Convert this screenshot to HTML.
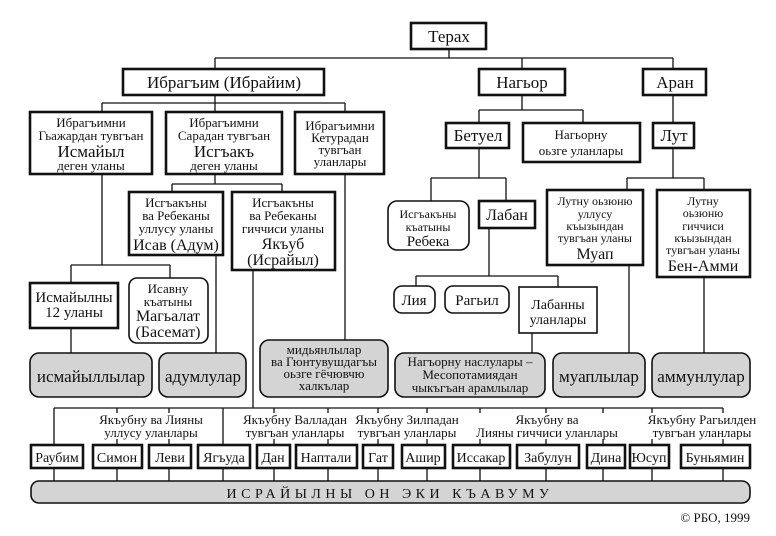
<!DOCTYPE html>
<html><head><meta charset="utf-8"><style>
html,body{margin:0;padding:0;background:#fff;}
svg{display:block;font-family:"Liberation Serif",serif;}
</style></head><body>
<svg width="776" height="536" viewBox="0 0 776 536" xmlns="http://www.w3.org/2000/svg">
<g stroke="#111" stroke-width="1.3" fill="none">
<path d="M449 49V58M215 58H673M215 58V69M522 58V69M673 58V69"/>
<path d="M215 95V103M102 103H345M102 103V112M215 103V112M345 103V112"/>
<path d="M522 95V110M479 110H583M479 110V123M583 110V123M673 95V123"/>
<path d="M215 174V184M172 184H282M172 184V192M282 184V192"/>
<path d="M479 148V178M431 178H506M431 178V201M506 178V201"/>
<path d="M673 148V178M627 178H704M627 178V190M704 178V190"/>
<path d="M102 174V265M71 265H170M71 265V283M170 265V278"/>
<path d="M489 228V276M416 276H558M416 276V286M558 276V287"/>
<path d="M71 328V353M216 255V353M345 174V340M532 333V353M629 265V353M704 277V353"/>
<path d="M253 270V408M54 408H723"/>
<path d="M54 408V445M117 408V445M169 408V445M223 408V445M274 408V445M328 408V445M378 408V445M427 408V445M480 408V445M546 408V445M603 408V445M652 408V445M723 408V445"/>
<path d="M54 468V481M117 468V481M169 468V481M223 468V481M274 468V481M328 468V481M378 468V481M427 468V481M480 468V481M546 468V481M603 468V481M652 468V481M723 468V481"/>
</g>
<g fill="#fff">
<rect x="98" y="413" width="106" height="26"/>
<rect x="243" y="413" width="104" height="26"/>
<rect x="358" y="413" width="98" height="26"/>
<rect x="478" y="413" width="140" height="26"/>
<rect x="645" y="413" width="112" height="26"/>
</g>
<g stroke="#111" stroke-width="2.6" fill="#fff">
<rect x="411" y="23" width="75" height="26"/>
<rect x="123" y="69" width="201" height="26"/>
<rect x="479" y="69" width="86" height="26"/>
<rect x="643" y="69" width="63" height="26"/>
<rect x="30" y="112" width="122" height="62"/>
<rect x="166" y="112" width="116" height="62"/>
<rect x="295" y="112" width="89" height="62"/>
<rect x="446" y="123" width="63" height="25"/>
<rect x="523" y="123" width="117" height="39"/>
<rect x="653" y="123" width="41" height="25"/>
<rect x="129" y="192" width="94" height="63"/>
<rect x="232" y="192" width="103" height="78"/>
<rect x="479" y="201" width="56" height="27"/>
<rect x="547" y="190" width="96" height="75"/>
<rect x="657" y="190" width="93" height="87"/>
<rect x="30" y="283" width="88" height="45"/>
<rect x="519" y="287" width="78" height="46" stroke-width="1.6"/>
<rect x="31" y="445" width="52" height="23"/><rect x="93" y="445" width="49" height="23"/>
<rect x="149" y="445" width="42" height="23"/><rect x="198" y="445" width="52" height="23"/>
<rect x="257" y="445" width="33" height="23"/><rect x="296" y="445" width="61" height="23"/>
<rect x="363" y="445" width="30" height="23"/><rect x="402" y="445" width="43" height="23"/>
<rect x="453" y="445" width="57" height="23"/><rect x="517" y="445" width="62" height="23"/>
<rect x="587" y="445" width="38" height="23"/><rect x="630" y="445" width="39" height="23"/>
<rect x="681" y="445" width="69" height="23"/>
</g>
<g stroke="#111" stroke-width="1.6" fill="#fff">
<rect x="388" y="201" width="81" height="49" rx="9"/>
<rect x="129" y="278" width="79" height="65" rx="8"/>
<rect x="394" y="286" width="41" height="27" rx="8"/>
<rect x="445" y="286" width="64" height="27" rx="8"/>
</g>
<g stroke="#111" stroke-width="1.6" fill="#d4d4d4">
<rect x="30" y="353" width="122" height="44" rx="9"/>
<rect x="159" y="353" width="87" height="44" rx="9"/>
<rect x="260" y="340" width="128" height="57" rx="9"/>
<rect x="395" y="353" width="150" height="44" rx="9"/>
<rect x="553" y="353" width="92" height="44" rx="9"/>
<rect x="652" y="353" width="98" height="44" rx="9"/>
<rect x="31" y="481" width="719" height="22" rx="8"/>
</g>
<g fill="#111" text-anchor="middle" font-size="17">
<text x="449" y="42">Терах</text>
<text x="224" y="88">Ибрагъим (Ибрайим)</text>
<text x="522" y="88">Нагьор</text>
<text x="675" y="88">Аран</text>
<text x="478" y="141">Бетуел</text>
<text x="674" y="141">Лут</text>
<text x="507" y="220" font-size="16">Лабан</text>
<text x="414" y="305" font-size="15">Лия</text>
<text x="477" y="305" font-size="15">Рагьил</text>
<text x="91" y="382">исмайыллылар</text>
<text x="203" y="382">адумлулар</text>
<text x="599" y="382">муаплылар</text>
<text x="701" y="382">аммунлулар</text>
</g>
<g fill="#111" text-anchor="middle" font-size="13">
<text x="91" y="127">Ибрагъимни</text><text x="91" y="140">Гьажардан тувгъан</text>
<text x="91" y="157" font-size="17">Исмайыл</text><text x="91" y="170">деген уланы</text>
<text x="224" y="127">Ибрагъимни</text><text x="224" y="140">Сарадан тувгъан</text>
<text x="224" y="157" font-size="17">Исгъакъ</text><text x="224" y="170">деген уланы</text>
<text x="340" y="130">Ибрагъимни</text><text x="340" y="142">Кетурадан</text>
<text x="340" y="154">тувгъан</text><text x="340" y="166">уланлары</text>
<text x="581" y="139">Нагьорну</text><text x="581" y="155">оьзге уланлары</text>
<text x="176" y="207">Исгъакъны</text><text x="176" y="220">ва Ребеканы</text>
<text x="176" y="233">уллусу уланы</text><text x="176" y="250" font-size="16">Исав (Адум)</text>
<text x="283" y="207">Исгъакъны</text><text x="283" y="220">ва Ребеканы</text>
<text x="283" y="233">гиччиси уланы</text><text x="283" y="249" font-size="16">Якъуб</text>
<text x="283" y="265" font-size="16">(Исрайыл)</text>
<text x="428" y="218" font-size="12">Исгъакъны</text><text x="428" y="231" font-size="12">къатыны</text>
<text x="428" y="246" font-size="15">Ребека</text>
<text x="595" y="205" font-size="12">Лутну оьзюню</text><text x="595" y="218" font-size="12">уллусу</text>
<text x="595" y="230" font-size="12">къызындан</text><text x="595" y="242" font-size="12">тувгъан уланы</text>
<text x="595" y="259" font-size="16">Муап</text>
<text x="703" y="205" font-size="12">Лутну</text><text x="703" y="217" font-size="12">оьзюню</text>
<text x="703" y="230" font-size="12">гиччиси</text><text x="703" y="242" font-size="12">къызындан</text>
<text x="703" y="254" font-size="12">тувгъан уланы</text><text x="703" y="271" font-size="16">Бен-Амми</text>
<text x="74" y="302" font-size="15">Исмайылны</text><text x="74" y="317" font-size="15">12 уланы</text>
<text x="168" y="293">Исавну</text><text x="168" y="306">къатыны</text>
<text x="168" y="321" font-size="16">Магьалат</text><text x="168" y="337" font-size="16">(Басемат)</text>
<text x="558" y="309" font-size="14">Лабанны</text><text x="558" y="324" font-size="14">уланлары</text>
<text x="324" y="354">мидьянлылар</text><text x="324" y="366">ва Гюнтувушдагъы</text>
<text x="324" y="378">оьзге гёчювчю</text><text x="324" y="390">халкълар</text>
<text x="470" y="366">Нагъорну наслулары –</text><text x="470" y="379">Месопотамиядан</text>
<text x="470" y="392">чыкъгъан арамлылар</text>
<text x="151" y="424">Якъубну ва Лияны</text><text x="151" y="437">уллусу уланлары</text>
<text x="295" y="424">Якъубну Валладан</text><text x="295" y="437">тувгъан уланлары</text>
<text x="407" y="424">Якъубну Зилпадан</text><text x="407" y="437">тувгъан уланлары</text>
<text x="547" y="424">Якъубну ва</text><text x="547" y="437">Лияны гиччиси уланлары</text>
<text x="702" y="424">Якъубну Рагьилден</text><text x="702" y="437">тувгъан уланлары</text>
</g>
<g fill="#111" text-anchor="middle" font-size="14">
<text x="57" y="462">Раубим</text><text x="117" y="462">Симон</text><text x="170" y="462">Леви</text>
<text x="224" y="462">Ягъуда</text><text x="273" y="462">Дан</text><text x="326" y="462">Наптали</text>
<text x="378" y="462">Гат</text><text x="423" y="462">Ашир</text><text x="481" y="462">Иссакар</text>
<text x="548" y="462">Забулун</text><text x="606" y="462">Дина</text><text x="649" y="462">Юсуп</text>
<text x="715" y="462">Буньямин</text>
<text x="390" y="498" letter-spacing="4.5">ИСРАЙЫЛНЫ ОН ЭКИ КЪАВУМУ</text>
</g>
<text x="750" y="522" text-anchor="end" font-size="13" fill="#111">© РБО, 1999</text>
</svg>
</body></html>
